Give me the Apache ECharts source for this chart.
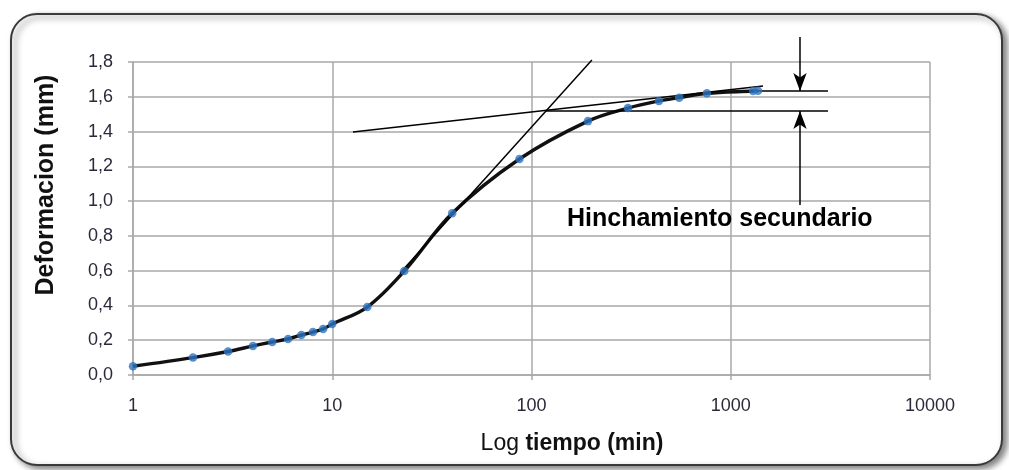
<!DOCTYPE html>
<html>
<head>
<meta charset="utf-8">
<script src="https://cdn.jsdelivr.net/npm/echarts@6/dist/echarts.min.js"></script>
<style>html,body{margin:0;padding:0;background:#fff}#c{width:1009px;height:470px}</style>
</head>
<body>
<div id="c"></div>
<script>
// Data
var times = [1, 2, 3, 4, 5, 6, 7, 8, 9, 10, 15, 23, 40, 87, 192, 305, 436, 551, 759, 1294, 1370];
var deform = [0.05, 0.10, 0.135, 0.167, 0.19, 0.207, 0.23, 0.247, 0.265, 0.293, 0.391, 0.598, 0.93, 1.242, 1.46, 1.535, 1.576, 1.595, 1.62, 1.633, 1.635];
var xTicks = [1, 10, 100, 1000, 10000];
var yMin = 0, yMax = 1.8, yStep = 0.2;
// construction lines (time, deformation)
var tangentSteep = [[21.9, 0.587], [201, 1.811]];
var tangentFlat = [[12.7, 1.397], [1452, 1.662]];
var levelLow = [[117, 1.518], [3076, 1.518]];
var levelHigh = [[1355, 1.633], [3076, 1.633]];
var arrowX = 2226;
var arrowTopShaft = [1.944, 1.75];
var arrowTopHead = [1.75, 1.633];
var arrowBottom = [0.978, 1.518];
var annotationText = 'Hinchamiento secundario';
var yTitle = 'Deformacion (mm)';
var xTitleA = 'Log ', xTitleB = 'tiempo (min)';

var chart = echarts.init(document.getElementById('c'));
var font = '"Liberation Sans", Arial, sans-serif';
var pts = times.map(function (t, i) { return [t, deform[i]]; });

function thinLine(d) {
  return {
    type: 'line', data: d, symbol: 'none', clip: false, silent: true,
    lineStyle: { color: '#000', width: 1.5 }, z: 3
  };
}

chart.setOption({
  animation: false,
  graphic: [
    {
      type: 'rect', z: -10,
      shape: { x: 11, y: 14, width: 991, height: 451, r: 26 },
      style: { fill: '#fff', stroke: '#3a3a3a', lineWidth: 2,
        shadowBlur: 6, shadowOffsetX: 4, shadowOffsetY: 3, shadowColor: 'rgba(0,0,0,0.5)' }
    },
    {
      type: 'text', left: 567, top: 207, z: 10,
      style: { text: annotationText, font: 'bold 25px ' + font, fill: '#000' }
    },
    {
      type: 'text', x: 46, y: 185, rotation: Math.PI / 2, z: 10,
      style: { text: yTitle, font: 'bold 25px ' + font, fill: '#111', align: 'center', verticalAlign: 'middle' }
    },
    {
      type: 'text', x: 572, y: 444, z: 10,
      style: {
        text: '{a|' + xTitleA + '}{b|' + xTitleB + '}', align: 'center', verticalAlign: 'middle',
        rich: {
          a: { fontSize: 23, fontFamily: font, fill: '#111' },
          b: { fontSize: 23, fontFamily: font, fontWeight: 'bold', fill: '#111' }
        }
      }
    }
  ],
  grid: { left: 133, right: 79, top: 62, bottom: 95 },
  xAxis: {
    type: 'log', logBase: 10, min: 1, max: 10000,
    axisLine: { show: true, lineStyle: { color: '#a8a8a8', width: 1.5 } },
    axisTick: { show: true, inside: false, length: 5, lineStyle: { color: '#a8a8a8', width: 1.5 } },
    minorTick: { show: false },
    splitLine: { show: true, lineStyle: { color: '#a8a8a8', width: 1.5 } },
    axisLabel: { color: '#2a2a3a', fontSize: 18, fontFamily: font, margin: 22,
      formatter: function (v) { return xTicks.indexOf(Math.round(v)) >= 0 ? String(Math.round(v)) : ''; } }
  },
  yAxis: {
    type: 'value', min: yMin, max: yMax, interval: yStep,
    axisLine: { show: true, lineStyle: { color: '#a8a8a8', width: 1.5 } },
    axisTick: { show: true, inside: false, length: 5, lineStyle: { color: '#a8a8a8', width: 1.5 } },
    splitLine: { show: true, lineStyle: { color: '#a8a8a8', width: 1.5 } },
    axisLabel: { color: '#2a2a3a', fontSize: 18, fontFamily: font, margin: 20,
      formatter: function (v) { return v.toFixed(1).replace('.', ','); } }
  },
  series: [
    {
      type: 'line', data: pts, smooth: 0.35, symbol: 'none', z: 2,
      lineStyle: { color: '#111', width: 3.4 }
    },
    thinLine(tangentSteep),
    thinLine(tangentFlat),
    thinLine(levelLow),
    thinLine(levelHigh),
    thinLine([[arrowX, arrowTopShaft[0]], [arrowX, arrowTopShaft[1]]]),
    {
      type: 'line', data: [], clip: false, silent: true, z: 3,
      markLine: {
        silent: true, symbol: ['none', 'arrow'], symbolSize: [10, 18],
        label: { show: false },
        lineStyle: { color: '#000', width: 1.5, type: 'solid' },
        data: [
          [{ coord: [arrowX, arrowTopHead[0]] }, { coord: [arrowX, arrowTopHead[1]] }],
          [{ coord: [arrowX, arrowBottom[0]] }, { coord: [arrowX, arrowBottom[1]] }]
        ]
      }
    },
    {
      type: 'scatter', data: pts, symbol: 'circle', symbolSize: 8.5, z: 5,
      itemStyle: { color: '#2E74C0' }
    }
  ]
});
</script>
</body>
</html>
